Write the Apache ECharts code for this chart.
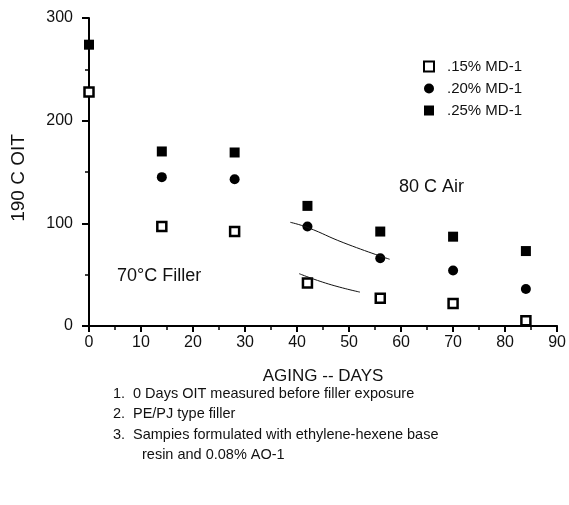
<!DOCTYPE html>
<html><head><meta charset="utf-8">
<script src="https://cdn.jsdelivr.net/npm/echarts@6/dist/echarts.min.js"></script>
<style>html,body{margin:0;padding:0;background:#fff}#c{width:569px;height:505px}</style>
</head><body><div id="c"></div>
<script>
const days15 = [0, 14, 28, 42, 56, 70, 84];
const oit15 = [228, 97, 92, 42, 27, 22, 5];
const days20 = [14, 28, 42, 56, 70, 84];
const oit20 = [145, 143, 97, 66, 54, 36];
const days25 = [0, 14, 28, 42, 56, 70, 84];
const oit25 = [274, 170, 169, 117, 92, 87, 73];
const curveUpperX = [38.7, 42, 49, 57.8];
const curveUpperY = [101, 96, 81, 65];
const curveLowerX = [40.4, 46, 52.1];
const curveLowerY = [51, 41, 33];
const seriesNames = ['.15% MD-1', '.20% MD-1', '.25% MD-1'];
const xTicks = [0, 10, 20, 30, 40, 50, 60, 70, 80, 90];
const yTicks = [0, 100, 200, 300];
const notes = [
  ['1.', '0 Days OIT measured before filler exposure'],
  ['2.', 'PE/PJ type filler'],
  ['3.', 'Sampies formulated with ethylene-hexene base'],
  ['', 'resin and 0.08% AO-1']
];

const zip = (a, b) => a.map((v, i) => [v, b[i]]);
const font = 'Liberation Sans, Arial, sans-serif';
const chart = echarts.init(document.getElementById('c'));

const noteGraphics = [];
notes.forEach((n, i) => {
  const y = 386 + i * 20.5;
  if (n[0]) noteGraphics.push({type: 'text', left: 113, top: y, style: {text: n[0], font: '14.5px ' + font, fill: '#111'}});
  noteGraphics.push({type: 'text', left: i === 3 ? 142 : 133, top: y, style: {text: n[1], font: '14.5px ' + font, fill: '#111'}});
});

chart.setOption({
  animation: false,
  backgroundColor: '#fff',
  textStyle: {fontFamily: font},
  grid: {left: 89, right: 10, top: 18, bottom: 179, containLabel: false},
  legend: {
    orient: 'vertical', left: 418, top: 54, itemWidth: 10, itemHeight: 10, itemGap: 7,
    textStyle: {fontSize: 15, color: '#111', fontFamily: font, padding: [0, 0, 0, 8]},
    data: seriesNames
  },
  xAxis: {
    type: 'value', min: xTicks[0], max: xTicks[xTicks.length - 1], interval: 10,
    name: 'AGING -- DAYS', nameLocation: 'middle', nameGap: 42,
    nameTextStyle: {fontSize: 17, color: '#111'},
    axisLine: {lineStyle: {color: '#000', width: 2}},
    axisTick: {show: true, length: 6, lineStyle: {color: '#000', width: 2}},
    minorTick: {show: true, splitNumber: 2, length: 4, lineStyle: {color: '#000', width: 1.5}},
    axisLabel: {fontSize: 16, color: '#111', margin: 9},
    splitLine: {show: false}
  },
  yAxis: {
    type: 'value', min: yTicks[0], max: yTicks[yTicks.length - 1], interval: 100,
    axisLine: {show: true, lineStyle: {color: '#000', width: 2}},
    axisTick: {show: true, length: 7, lineStyle: {color: '#000', width: 2}},
    minorTick: {show: true, splitNumber: 2, length: 4, lineStyle: {color: '#000', width: 1.5}},
    axisLabel: {fontSize: 16, color: '#111', margin: 16},
    splitLine: {show: false}
  },
  graphic: [
    {type: 'text', x: 19, y: 178, rotation: Math.PI / 2,
     style: {text: '190 C OIT', font: '19px ' + font, fill: '#111', align: 'center', verticalAlign: 'middle'}},
    {type: 'text', left: 117, top: 267, style: {text: '70°C Filler', font: '18px ' + font, fill: '#111'}},
    {type: 'text', left: 399, top: 178, style: {text: '80 C Air', font: '18px ' + font, fill: '#111'}}
  ].concat(noteGraphics),
  series: [
    {name: seriesNames[0], type: 'scatter', symbol: 'rect', symbolSize: 9,
     itemStyle: {color: '#fff', borderColor: '#000', borderWidth: 2.5, opacity: 1},
     data: zip(days15, oit15)},
    {name: seriesNames[1], type: 'scatter', symbol: 'circle', symbolSize: 10,
     itemStyle: {color: '#000', opacity: 1},
     data: zip(days20, oit20)},
    {name: seriesNames[2], type: 'scatter', symbol: 'rect', symbolSize: 10,
     itemStyle: {color: '#000', borderColor: '#000', borderWidth: 0, opacity: 1},
     data: zip(days25, oit25)},
    {type: 'line', smooth: true, showSymbol: false, symbol: 'none', silent: true,
     lineStyle: {color: '#111', width: 1}, data: zip(curveUpperX, curveUpperY)},
    {type: 'line', smooth: true, showSymbol: false, symbol: 'none', silent: true,
     lineStyle: {color: '#111', width: 1}, data: zip(curveLowerX, curveLowerY)}
  ]
});
</script></body></html>
